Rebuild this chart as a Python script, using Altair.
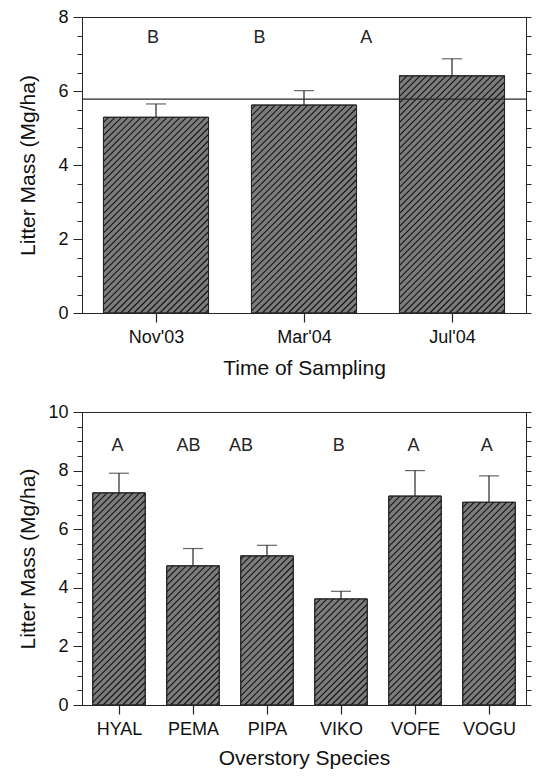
import json
import altair as alt
import pandas as pd

# ---------------- data ----------------
months = ["Nov'03", "Mar'04", "Jul'04"]
month_mass = [5.29, 5.62, 6.41]
month_se = [0.36, 0.39, 0.46]
month_letters = ["B", "B", "A"]
month_letter_x = [0.48, 1.20, 1.92]      # category units
month_letter_y = 7.42
overall_mean = [5.78]

species = ["HYAL", "PEMA", "PIPA", "VIKO", "VOFE", "VOGU"]
species_mass = [7.24, 4.75, 5.09, 3.62, 7.13, 6.92]
species_se = [0.67, 0.59, 0.36, 0.26, 0.87, 0.90]
species_letters = ["A", "AB", "AB", "B", "A", "A"]
species_letter_x = [0.48, 1.44, 2.15, 3.47, 4.48, 5.47]
species_letter_y = 8.83

# ---------------- style ----------------
W = 444
BAR_FRAC = 0.71
HATCH_STEP = 6.5   # px
FONT = "Liberation Sans"
INK = "#262626"
FILL = "#7c7c7c"


def panel(cats, vals, errs, letters, letter_x, letter_y, ymax, xtitle, H, tpad, mean=None):
    n = len(cats)
    sx = W / n
    sy = H / ymax
    df = pd.DataFrame({"cat": cats, "idx": list(range(n)), "val": vals, "err": errs})
    df["x0"] = df["idx"] + 0.5 - BAR_FRAC / 2
    df["x1"] = df["idx"] + 0.5 + BAR_FRAC / 2
    df["xc"] = df["idx"] + 0.5
    df["top"] = df["val"] + df["err"]

    # hatch segments ("/" lines) inside each bar, derived from bar geometry
    segs = []
    for _, r in df.iterrows():
        wp = BAR_FRAC * sx
        hp = r["val"] * sy
        c = -wp + HATCH_STEP / 2
        while c < hp:
            us = max(0.0, -c)
            ue = min(wp, hp - c)
            if ue > us:
                segs.append({
                    "hx": r["x0"] + us / sx, "hy": (us + c) / sy,
                    "hx2": r["x0"] + ue / sx, "hy2": (ue + c) / sy,
                })
            c += HATCH_STEP
    hatch = pd.DataFrame(segs)

    lab = pd.DataFrame({"lx": letter_x, "ly": [letter_y] * n, "letter": letters})

    xscale = alt.Scale(domain=[0, n], nice=False, zero=False)
    yscale = alt.Scale(domain=[0, ymax], nice=False)
    yvals = [i * 0.5 for i in range(2 * ymax + 1)]
    names_expr = ""
    for i, c in enumerate(cats[:-1]):
        names_expr += "datum.value < %d ? %s : " % (i + 1, json.dumps(c))
    names_expr += json.dumps(cats[-1])

    xaxis = alt.Axis(
        values=[i + 0.5 for i in range(n)], labelExpr=names_expr, title=xtitle,
        ticks=True, tickSize=9, tickColor=INK, tickWidth=1.2,
        labelPadding=6, titlePadding=tpad, grid=False,
        labelFontSize=18, titleFontSize=21,
    )
    left_axis = alt.Axis(
        values=yvals, title="Litter Mass (Mg/ha)", grid=False,
        labelExpr="datum.value % 2 == 0 ? format(datum.value, 'd') : ''",
        tickSize={"condition": {"test": "datum.value % 2 == 0", "value": 9}, "value": 5},
        labelPadding=5, titleX=-54, titleY=H / 2, titleBaseline="middle",
        labelFontSize=18, titleFontSize=21,
    )
    right_axis = alt.Axis(
        values=yvals, orient="right", labels=False, tickSize=5, title="", grid=False,
        titlePadding=0,
    )

    base = alt.Chart(df)
    bars = base.mark_rect(fill=FILL, stroke=INK, strokeWidth=1).encode(
        x=alt.X("x0:Q", scale=xscale, axis=xaxis),
        x2="x1",
        y=alt.Y("val:Q", scale=yscale, axis=left_axis),
        y2=alt.datum(0),
    )
    hatch_l = alt.Chart(hatch).mark_rule(color="#161616", strokeWidth=1.1).encode(
        x=alt.X("hx:Q", scale=xscale, axis=None),
        x2="hx2",
        y=alt.Y("hy:Q", scale=yscale, axis=None),
        y2="hy2",
    )
    outline = base.mark_rect(fillOpacity=0, stroke=INK, strokeWidth=1).encode(
        x=alt.X("x0:Q", scale=xscale, axis=None),
        x2="x1",
        y=alt.Y("val:Q", scale=yscale, axis=None),
        y2=alt.datum(0),
    )
    err = base.mark_rule(color=INK, strokeWidth=1.2).encode(
        x=alt.X("xc:Q", scale=xscale, axis=None),
        y=alt.Y("val:Q", scale=yscale, axis=None),
        y2="top",
    )
    cap = base.mark_tick(orient="horizontal", size=20, thickness=1.2, color=INK).encode(
        x=alt.X("xc:Q", scale=xscale, axis=None),
        y=alt.Y("top:Q", scale=yscale, axis=None),
    )
    text = alt.Chart(lab).mark_text(font=FONT, fontSize=18, color=INK).encode(
        x=alt.X("lx:Q", scale=xscale, axis=None),
        y=alt.Y("ly:Q", scale=yscale, axis=None),
        text="letter:N",
    )
    right = base.mark_point(opacity=0).encode(
        x=alt.X("xc:Q", scale=xscale, axis=None),
        y=alt.Y("val:Q", scale=yscale, axis=right_axis),
    )
    layers = [bars, hatch_l, outline, err, cap, text, right]
    if mean is not None:
        mdf = pd.DataFrame({"m": mean})
        layers.append(
            alt.Chart(mdf).mark_rule(color=INK, strokeWidth=1.2).encode(
                y=alt.Y("m:Q", scale=yscale, axis=None)
            )
        )
    return (
        alt.layer(*layers)
        .resolve_axis(x="independent", y="independent")
        .properties(width=W, height=H)
    )


top = panel(months, month_mass, month_se, month_letters, month_letter_x,
            month_letter_y, 8, "Time of Sampling", 296, 11, mean=overall_mean)
bottom = panel(species, species_mass, species_se, species_letters, species_letter_x,
               species_letter_y, 10, "Overstory Species", 293, 9)

chart = alt.vconcat(top, bottom, spacing=23).properties(
    padding={"left": 8, "top": -1, "right": 0, "bottom": 0}
).configure_view(
    stroke=INK, strokeWidth=1
).configure_axis(
    domainColor=INK, tickColor=INK, labelColor="#111", titleColor="#111",
    labelFont=FONT, titleFont=FONT,
    titleFontWeight="normal", domainWidth=1, tickWidth=1,
)

chart.save("out.html", embed_options={"renderer": "svg", "actions": False})
